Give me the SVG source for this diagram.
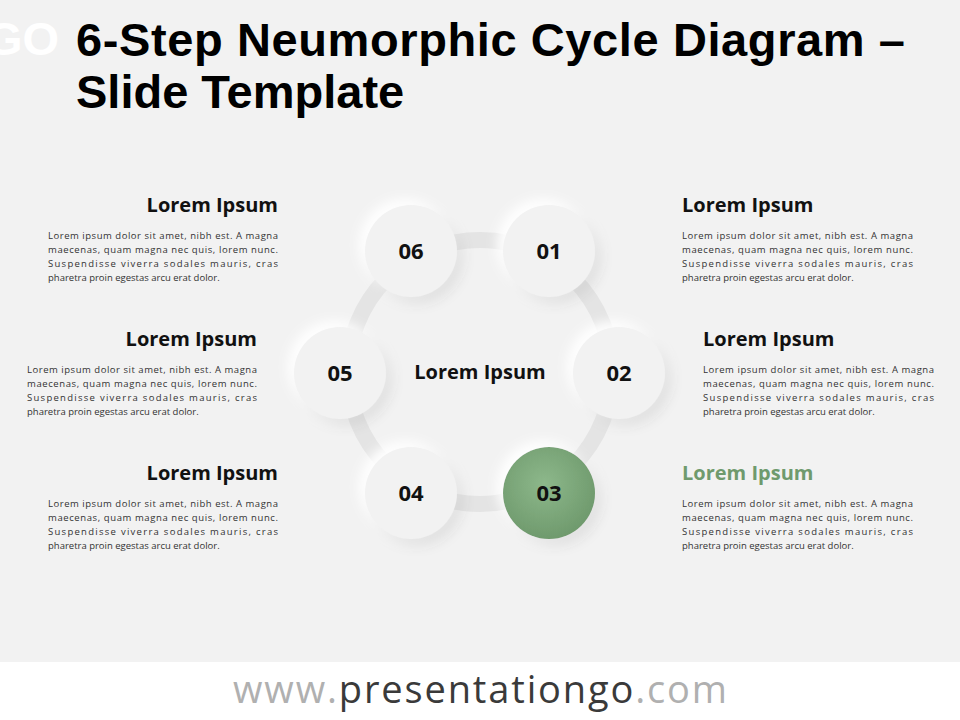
<svg xmlns="http://www.w3.org/2000/svg" width="960" height="720" viewBox="0 0 960 720">
<defs>
<filter id="sh" x="-50%" y="-50%" width="200%" height="200%">
<feDropShadow dx="6" dy="6" stdDeviation="6" flood-color="#000" flood-opacity="0.13"/>
<feDropShadow dx="-6" dy="-6" stdDeviation="6" flood-color="#fff" flood-opacity="1"/>
</filter>
<radialGradient id="g3" cx="0.45" cy="0.4" r="0.6">
<stop offset="0" stop-color="#8db88b"/><stop offset="1" stop-color="#6f9a6d"/>
</radialGradient>
<style>
.t{font-family:"Liberation Sans",Arial,sans-serif;font-weight:bold;font-size:47px;fill:#000}
.h{font-family:"Open Sans","Noto Sans",sans-serif;font-weight:bold;font-size:20px;fill:#111}
.b{font-family:"Open Sans","Noto Sans",sans-serif;font-size:9.5px;fill:#333}
.n{font-family:"Open Sans","Noto Sans",sans-serif;font-weight:bold;font-size:22px;fill:#111}
.c{fill:#f2f2f2;filter:url(#sh)}
</style>
</defs>
<rect width="960" height="720" fill="#f2f2f2"/>
<text x="-14" y="55" class="t" style="fill:#fff">GO</text>
<text x="76" y="56" class="t" textLength="829">6-Step Neumorphic Cycle Diagram –</text>
<text x="76" y="108" class="t">Slide Template</text>
<g id="connectors">
<circle cx="480" cy="372" r="132" fill="none" stroke="#e4e4e4" stroke-width="16"/>
</g>
<g id="center"><text x="480" y="379" text-anchor="middle" class="h">Lorem Ipsum</text></g>
<g id="n01"><circle cx="549" cy="251" r="46" class="c"/><text x="549" y="259" text-anchor="middle" class="n">01</text></g>
<g id="n02"><circle cx="619" cy="373" r="46" class="c"/><text x="619" y="381" text-anchor="middle" class="n">02</text></g>
<g id="n03"><circle cx="549" cy="493" r="46" fill="url(#g3)" filter="url(#sh)"/><text x="549" y="501" text-anchor="middle" class="n">03</text></g>
<g id="n04"><circle cx="411" cy="493" r="46" class="c"/><text x="411" y="501" text-anchor="middle" class="n">04</text></g>
<g id="n05"><circle cx="340" cy="373" r="46" class="c"/><text x="340" y="381" text-anchor="middle" class="n">05</text></g>
<g id="n06"><circle cx="411" cy="251" r="46" class="c"/><text x="411" y="259" text-anchor="middle" class="n">06</text></g>
<g id="t01"><text x="682" y="212" class="h">Lorem Ipsum</text>
<text class="b"><tspan x="682" y="239" textLength="231">Lorem ipsum dolor sit amet, nibh est. A magna</tspan><tspan x="682" y="253" textLength="231">maecenas, quam magna nec quis, lorem nunc.</tspan><tspan x="682" y="267" textLength="231" lengthAdjust="spacing">Suspendisse viverra sodales mauris, cras</tspan><tspan x="682" y="281">pharetra proin egestas arcu erat dolor.</tspan></text></g>
<g id="t02"><text x="703" y="346" class="h">Lorem Ipsum</text>
<text class="b"><tspan x="703" y="373" textLength="231">Lorem ipsum dolor sit amet, nibh est. A magna</tspan><tspan x="703" y="387" textLength="231">maecenas, quam magna nec quis, lorem nunc.</tspan><tspan x="703" y="401" textLength="231">Suspendisse viverra sodales mauris, cras</tspan><tspan x="703" y="415">pharetra proin egestas arcu erat dolor.</tspan></text></g>
<g id="t03"><text x="682" y="480" class="h" style="fill:#6f9a6d">Lorem Ipsum</text>
<text class="b"><tspan x="682" y="507" textLength="231">Lorem ipsum dolor sit amet, nibh est. A magna</tspan><tspan x="682" y="521" textLength="231">maecenas, quam magna nec quis, lorem nunc.</tspan><tspan x="682" y="535" textLength="231">Suspendisse viverra sodales mauris, cras</tspan><tspan x="682" y="549">pharetra proin egestas arcu erat dolor.</tspan></text></g>
<g id="t06"><text x="278" y="212" text-anchor="end" class="h">Lorem Ipsum</text>
<text class="b"><tspan x="48" y="239" textLength="230">Lorem ipsum dolor sit amet, nibh est. A magna</tspan><tspan x="48" y="253" textLength="230">maecenas, quam magna nec quis, lorem nunc.</tspan><tspan x="48" y="267" textLength="230">Suspendisse viverra sodales mauris, cras</tspan><tspan x="48" y="281">pharetra proin egestas arcu erat dolor.</tspan></text></g>
<g id="t05"><text x="257" y="346" text-anchor="end" class="h">Lorem Ipsum</text>
<text class="b"><tspan x="27" y="373" textLength="230">Lorem ipsum dolor sit amet, nibh est. A magna</tspan><tspan x="27" y="387" textLength="230">maecenas, quam magna nec quis, lorem nunc.</tspan><tspan x="27" y="401" textLength="230">Suspendisse viverra sodales mauris, cras</tspan><tspan x="27" y="415">pharetra proin egestas arcu erat dolor.</tspan></text></g>
<g id="t04"><text x="278" y="480" text-anchor="end" class="h">Lorem Ipsum</text>
<text class="b"><tspan x="48" y="507" textLength="230">Lorem ipsum dolor sit amet, nibh est. A magna</tspan><tspan x="48" y="521" textLength="230">maecenas, quam magna nec quis, lorem nunc.</tspan><tspan x="48" y="535" textLength="230">Suspendisse viverra sodales mauris, cras</tspan><tspan x="48" y="549">pharetra proin egestas arcu erat dolor.</tspan></text></g>
<rect x="0" y="662" width="960" height="58" fill="#fff"/>
<text x="480" y="703" text-anchor="middle" textLength="494" style="font-family:'Open Sans','Noto Sans',sans-serif;font-size:38px;fill:#b0b0b0">www.<tspan fill="#3a3a3a">presentationgo</tspan>.com</text>
</svg>
